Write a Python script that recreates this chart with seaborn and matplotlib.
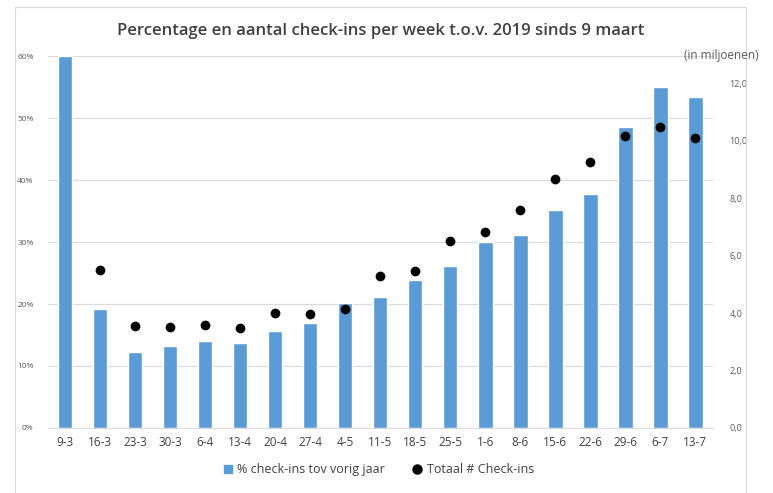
import matplotlib
matplotlib.use("Agg")
import matplotlib.pyplot as plt
import numpy as np
import pandas as pd
import seaborn as sns
from matplotlib.lines import Line2D
from matplotlib.patches import Patch, Rectangle
from matplotlib.ticker import FuncFormatter

weeks = ["9-3", "16-3", "23-3", "30-3", "6-4", "13-4", "20-4", "27-4", "4-5",
         "11-5", "18-5", "25-5", "1-6", "8-6", "15-6", "22-6", "29-6", "6-7", "13-7"]
pct_checkins = [60.0, 19.2, 12.3, 13.3, 14.1, 13.7, 15.7, 17.0, 20.2,
                21.2, 23.9, 26.1, 30.0, 31.2, 35.2, 37.8, 48.5, 55.0, 53.4]
total_checkins = [np.nan, 5.50, 3.55, 3.51, 3.58, 3.48, 4.00, 3.97, 4.15,
                  5.30, 5.47, 6.51, 6.83, 7.58, 8.65, 9.25, 10.16, 10.48, 10.10]

df = pd.DataFrame({"week": weeks, "pct": pct_checkins, "total": total_checkins})

BLUE = "#5b9bd5"
GREY = "#595959"
FONT = ["Open Sans", "DejaVu Sans"]

sns.set_style("white")
plt.rcParams["font.family"] = FONT

fig = plt.figure(figsize=(7.73, 4.93), dpi=100)
ax = fig.add_axes([0.0615, 0.132, 0.8605, 0.754])

sns.barplot(data=df, x="week", y="pct", order=weeks, color=BLUE,
            width=0.42, saturation=1, ax=ax, zorder=2)
ax.set_ylim(0, 60)
ax.set_yticks(np.arange(0, 61, 10))
ax.yaxis.set_major_formatter(FuncFormatter(lambda v, p: f"{v:.0f}%"))
ax.grid(axis="y", color="#d9d9d9", linewidth=0.8, zorder=0)
ax.set_axisbelow(True)
ax.set_xlabel("")
ax.set_ylabel("")
for s in ["top", "left", "right"]:
    ax.spines[s].set_visible(False)
ax.spines["bottom"].set_color("#d9d9d9")
ax.tick_params(axis="y", length=0, labelsize=6, labelcolor=GREY, pad=10)
ax.tick_params(axis="x", length=0, labelsize=8.5, labelcolor="#404040", pad=6)

ax2 = ax.twinx()
sns.stripplot(data=df, x="week", y="total", order=weeks, jitter=False,
              color="black", size=7, ax=ax2, zorder=3)
ax2.set_ylim(0, 12.94)
ax2.set_yticks(np.arange(0, 12.1, 2))
ax2.yaxis.set_major_formatter(FuncFormatter(lambda v, p: f"{v:.1f}".replace(".", ",")))
ax2.set_ylabel("")
ax2.set_xlabel("")
for s in ["top", "left", "right", "bottom"]:
    ax2.spines[s].set_visible(False)
ax2.tick_params(axis="y", length=0, labelsize=6.5, labelcolor=GREY, pad=12)

fig.text(0.493, 0.938, "Percentage en aantal check-ins per week t.o.v. 2019 sinds 9 maart",
         ha="center", va="center", fontsize=12, fontweight="semibold", color="#404040")
fig.text(0.885, 0.887, "(in miljoenen)", ha="left", va="center", fontsize=8.5, color=GREY)

handles = [
    Patch(facecolor=BLUE, edgecolor=BLUE, label="% check-ins tov vorig jaar"),
    Line2D([0], [0], marker="o", color="none", markerfacecolor="black",
           markeredgecolor="black", markersize=6.5, label="Totaal # Check-ins"),
]
fig.legend(handles=handles, loc="center", bbox_to_anchor=(0.49, 0.047), ncol=2,
           frameon=False, fontsize=9, handlelength=0.7, handleheight=0.7,
           handletextpad=0.4, columnspacing=2.2, labelcolor="#404040")

fig.patches.append(Rectangle((0.019, -0.02), 0.946, 1.005, transform=fig.transFigure,
                             fill=False, edgecolor="#d9d9d9", linewidth=0.8))

fig.savefig("out.png", dpi=100)
